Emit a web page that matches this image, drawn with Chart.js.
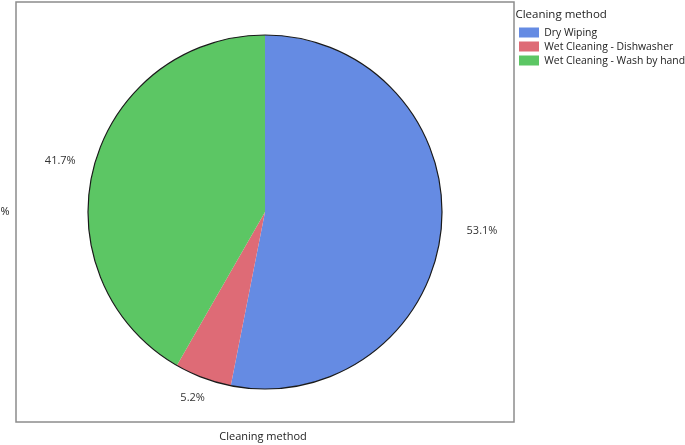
<!DOCTYPE html>
<html>
<head>
<meta charset="utf-8">
<script src="https://cdn.jsdelivr.net/npm/chart.js@4"></script>
<style>
  html, body { margin: 0; padding: 0; background: #fff; }
  #wrap { width: 685px; height: 445px; position: relative; }
</style>
</head>
<body>
<div id="wrap"><canvas id="c" width="685" height="445"></canvas></div>
<script>
const categories = ['Dry Wiping', 'Wet Cleaning - Dishwasher', 'Wet Cleaning - Wash by hand'];
const percentValues = [53.1, 5.2, 41.7];
const sliceColors = ['#658be3', '#de6b76', '#5cc664'];
const legendTitle = 'Cleaning method';
const xAxisTitle = 'Cleaning method';
const yAxisTitle = '%';

const FONT = '"Open Sans", "DejaVu Sans", sans-serif';
const BOX_INSET = 1.4;

const decorPlugin = {
  id: 'decor',
  beforeInit(chart) {
    const lg = chart.legend;
    if (lg) {
      const orig = lg.fit;
      lg.fit = function () { orig.call(this); this.width = 169.6; };
    }
  },
  beforeDraw(chart) {
    const { ctx, chartArea: a } = chart;
    ctx.save();
    ctx.fillStyle = '#fff';
    ctx.fillRect(0, 0, chart.width, chart.height);
    ctx.strokeStyle = '#8c8c8c';
    ctx.lineWidth = 1.5;
    ctx.strokeRect(a.left + BOX_INSET, a.top, a.right - a.left - 2 * BOX_INSET, a.bottom - a.top);
    ctx.fillStyle = '#222';
    ctx.font = '11px ' + FONT;
    ctx.textAlign = 'center';
    ctx.textBaseline = 'middle';
    ctx.fillText(xAxisTitle, (a.left + a.right) / 2 - 2, a.bottom + 15);
    ctx.fillText(yAxisTitle, a.left + BOX_INSET - 11, (a.top + a.bottom) / 2);
    ctx.restore();
  },
  afterDatasetsDraw(chart) {
    const { ctx } = chart;
    const meta = chart.getDatasetMeta(0);
    const arcs = meta.data;
    if (!arcs.length) return;
    const cx = arcs[0].x, cy = arcs[0].y, r = arcs[0].outerRadius;
    ctx.save();
    ctx.beginPath();
    ctx.arc(cx, cy, r, 0, Math.PI * 2);
    ctx.strokeStyle = '#1a1a1a';
    ctx.lineWidth = 1.2;
    ctx.stroke();
    ctx.font = '11px ' + FONT;
    ctx.fillStyle = '#333';
    ctx.textAlign = 'center';
    ctx.textBaseline = 'middle';
    arcs.forEach((arc, i) => {
      const mid = (arc.startAngle + arc.endAngle) / 2;
      const dx = Math.cos(mid), dy = Math.sin(mid);
      const txt = percentValues[i].toFixed(1) + '%';
      const x = cx + dx * (r + 38) + 3;
      const y = cy + dy * (r + 21);
      ctx.fillText(txt, x, y);
    });
    ctx.restore();
  }
};

new Chart(document.getElementById('c'), {
  type: 'pie',
  data: {
    labels: categories,
    datasets: [{
      data: percentValues,
      backgroundColor: sliceColors,
      borderWidth: 0,
      radius: 177
    }]
  },
  options: {
    responsive: false,
    animation: false,
    events: [],
    layout: { padding: { left: 14.6, top: 2, right: 0, bottom: 23 } },
    plugins: {
      tooltip: { enabled: false },
      legend: {
        position: 'right',
        align: 'start',
        title: {
          display: true,
          position: 'start',
          text: legendTitle,
          color: '#222',
          font: { family: FONT, size: 11.5 },
          padding: { top: 7, bottom: 1 }
        },
        labels: {
          color: '#222',
          font: { family: FONT, size: 10.4, lineHeight: 1.15 },
          boxWidth: 20,
          boxHeight: 10,
          padding: 3.6
        }
      }
    }
  },
  plugins: [decorPlugin]
});
</script>
</body>
</html>
